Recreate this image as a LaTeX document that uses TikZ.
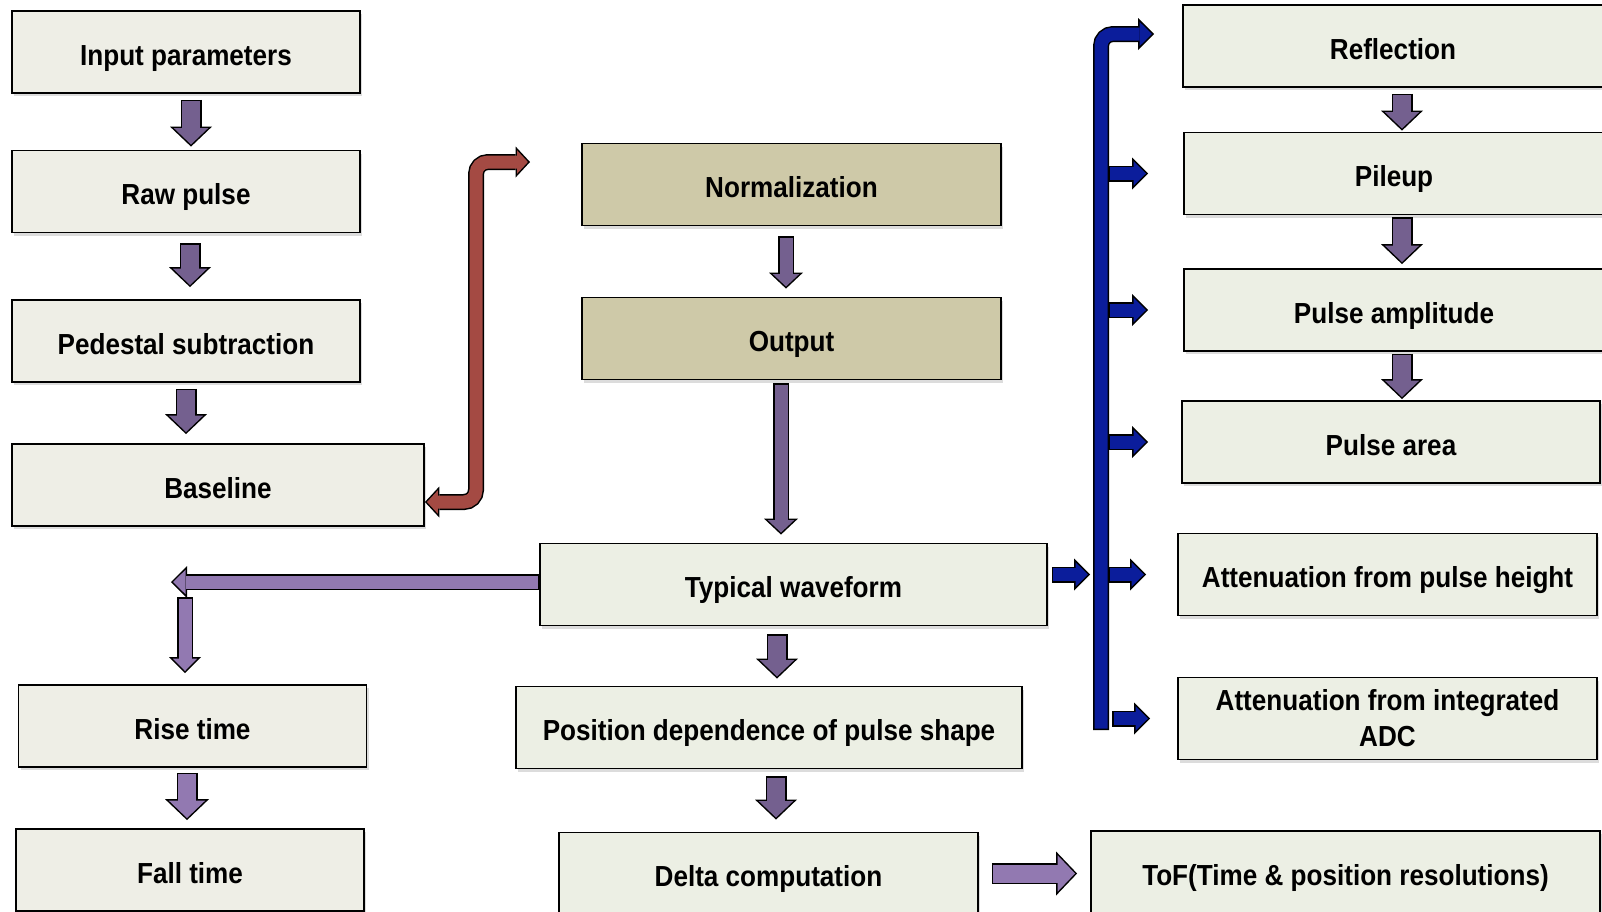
\documentclass[tikz,border=0pt]{standalone}
\usepackage{fontspec}
\setmainfont{Liberation Sans}[FakeStretch=0.9]
\usepackage{tikz}
\usetikzlibrary{arrows.meta,calc,shadows}
\definecolor{leftfill}{RGB}{238,238,230}
\definecolor{restfill}{RGB}{236,239,228}
\definecolor{tanfill}{RGB}{206,201,168}
\definecolor{pdark}{RGB}{116,96,143}
\definecolor{plight}{RGB}{146,121,177}
\definecolor{redarrow}{RGB}{164,74,67}
\definecolor{bluearrow}{RGB}{11,29,155}
\tikzset{
  stage/.style={draw, line width=0.9pt, fill=leftfill, minimum width=174pt, minimum height=41pt, align=center,
    text height=14pt, text depth=1pt,
    font=\fontsize{14.5pt}{18pt}\selectfont\bfseries,
    drop shadow={shadow xshift=1.2pt, shadow yshift=-1.6pt, fill=black!45, opacity=0.3}},
  product/.style={stage, fill=restfill},
  core/.style={stage, fill=tanfill},
  gapin/.store in=\gapin, gapout/.store in=\gapout, gapin=3pt, gapout=3pt,
  blk/.style n args={7}{draw=#1, line width=#3, rounded corners=6pt,
    -{Triangle[length=#6, width=#7, line width=0pt]},
    shorten <=\gapin+0.75pt, shorten >=\gapout+1.05pt,
    preaction={draw=black, line width=#2, -{Triangle[length=#4, width=#5, line width=0pt]},
      shorten <=\gapin, shorten >=\gapout}},
  bigdown/.style={blk={pdark}{10.5pt}{9pt}{10pt}{21pt}{8.2pt}{17.2pt}},
  midarrow/.style={blk={pdark}{8pt}{6.5pt}{8pt}{17pt}{6.2pt}{13.2pt}},
  palebig/.style={blk={plight}{10.5pt}{9pt}{10.5pt}{22pt}{8.7pt}{18.2pt}},
  palemid/.style={blk={plight}{8pt}{6.5pt}{8pt}{16pt}{6.2pt}{12.2pt}},
  busarrow/.style={blk={bluearrow}{8pt}{6.5pt}{8pt}{16pt}{6.2pt}{12.2pt}},
  redarr/.style={draw=redarrow, line width=6.5pt, rounded corners=6pt,
    {Triangle[length=5.4pt, width=11.7pt, line width=0pt]}-{Triangle[length=5.4pt, width=11.7pt, line width=0pt]},
    shorten <=1.05pt, shorten >=1.05pt,
    preaction={draw=black, line width=8pt,
      {Triangle[length=7.2pt, width=15.5pt, line width=0pt]}-{Triangle[length=7.2pt, width=15.5pt, line width=0pt]},
      shorten <=0pt, shorten >=0pt}}
}
\begin{document}
\begin{tikzpicture}[x=0.5pt, y=-0.5pt]
  \clip (0,0) rectangle (1602,911);

  \node[stage] (input) at (186,52) {Input parameters};
  \node[stage] (raw) at (186,191.5) {Raw pulse};
  \node[stage] (ped) at (186,341) {Pedestal subtraction};
  \node[stage, minimum width=206pt] (base) at (218,485) {Baseline};
  \node[stage] (rise) at (192.5,726) {Rise time};
  \node[stage] (fall) at (190,870) {Fall time};

  \node[core, minimum width=209.5pt] (norm) at (791.5,184.5) {Normalization};
  \node[core, minimum width=209.5pt] (out) at (791.5,338.5) {Output};
  \node[product, minimum width=253.5pt] (typ) at (793.5,584.5) {Typical waveform};
  \node[product, minimum width=253pt] (pos) at (769,727.5) {Position dependence of pulse shape};
  \node[product, minimum width=209.5pt] (delta) at (768.5,873.5) {Delta computation};

  \node[product, minimum width=210pt] (refl) at (1393,46) {Reflection};
  \node[product, minimum width=210pt] (pile) at (1394,173.5) {Pileup};
  \node[product, minimum width=210pt] (amp) at (1394,310) {Pulse amplitude};
  \node[product, minimum width=209pt] (area) at (1391,442) {Pulse area};
  \node[product, minimum width=209.5pt] (attph) at (1387.5,574.5) {Attenuation from pulse height};
  \node[product, minimum width=209.5pt, text height=, text depth=] (attadc) at (1387.5,718.5) {Attenuation from integrated\\ADC};
  \node[product, minimum width=254.5pt] (tof) at (1345.5,872) {ToF(Time \& position resolutions)};

  \coordinate (redtop) at (530,162);
  \coordinate (split) at (171,582);
  \coordinate (busfoot) at (1101,730);
  \coordinate (bustop) at (1154,34);

  \draw[gapout=1.5pt, bigdown] ([xshift=2.5pt]input.south) -- ([xshift=2.5pt]raw.north);
  \draw[gapin=5pt, gapout=6pt, bigdown] ([xshift=2pt]raw.south) -- ([xshift=2pt]ped.north);
  \draw[gapout=4.5pt, bigdown] (ped.south) -- (ped.south |- base.north);
  \draw[redarr] ([yshift=-8.5pt]base.east) -| ($(redtop)+(-54,0)$) -- (redtop);

  \draw[gapin=5pt, gapout=4pt, midarrow] ([xshift=-2.75pt]norm.south) -- ([xshift=-2.75pt]out.north);
  \draw[gapin=1.5pt, gapout=4pt, midarrow] ([xshift=-5.25pt]out.south) -- ([xshift=-5.25pt]out.south |- typ.north);
  \draw[gapin=4pt, gapout=3.5pt, bigdown] ([xshift=4pt]pos.north |- typ.south) -- ([xshift=4pt]pos.north);
  \draw[gapin=3.5pt, gapout=6pt, bigdown] ([xshift=3.5pt]pos.south) -- ([xshift=3.5pt]pos.south |- delta.north);

  \draw[gapin=0pt, gapout=0pt, palemid] (typ.west |- split) -- (split);
  \draw[gapin=7.5pt, gapout=5.5pt, palemid] ($(split)+(14,0)$) -- ($(split |- rise.north)+(14,0)$);
  \draw[gapin=2.5pt, gapout=4pt, palebig] ([xshift=-2.75pt]rise.south) -- ([xshift=-2.75pt]rise.south |- fall.north);
  \draw[gapin=6.5pt, gapout=6.5pt, palebig] (delta.east) -- (delta.east -| tof.west);

  \draw[gapin=0pt, gapout=0pt, busarrow] (busfoot) |- (bustop);
  \foreach \tgt/\gap in {pile/17.5pt, amp/17.5pt, area/16.5pt, attph/15.5pt}
    \draw[gapin=3.5pt, gapout=\gap, busarrow] (busfoot |- \tgt.west) -- (\tgt.west);
  \draw[gapin=5.5pt, gapout=13.5pt, busarrow] (busfoot |- attadc.west) -- (attadc.west);
  \draw[gapin=2pt, gapout=5.5pt, busarrow] (typ.east |- attph.west) -- (busfoot |- attph.west);

  \draw[gapin=3pt, gapout=0.5pt, bigdown] ([xshift=4.5pt]refl.south) -- ([xshift=4.5pt]refl.south |- pile.north);
  \draw[gapin=1pt, gapout=2pt, bigdown] ([xshift=4pt]pile.south) -- ([xshift=4pt]pile.south |- amp.north);
  \draw[gapin=1pt, gapout=0.5pt, bigdown] ([xshift=4pt]amp.south) -- ([xshift=4pt]amp.south |- area.north);
\end{tikzpicture}
\end{document}
